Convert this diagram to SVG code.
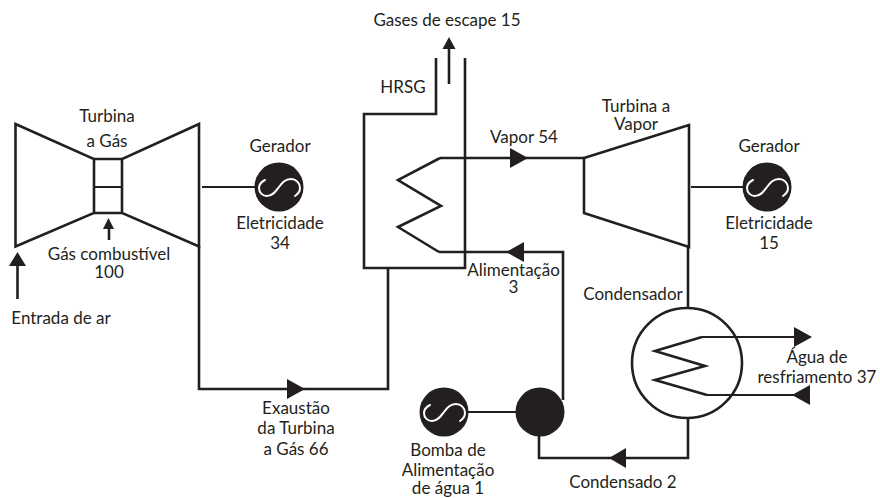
<svg xmlns="http://www.w3.org/2000/svg" width="880" height="498" viewBox="0 0 880 498">
<style>
text{font-family:"Lato","Open Sans","Liberation Sans",sans-serif;font-size:17px;fill:#231f20;text-anchor:middle}
.l{fill:none;stroke:#231f20;stroke-width:2.6;stroke-linejoin:miter}
.t{fill:none;stroke:#231f20;stroke-width:2}
.a{fill:#231f20;stroke:none}
.d{fill:#231f20}
.s{fill:none;stroke:#fff;stroke-width:2;stroke-linecap:round}
</style>
<defs>
<g id="gen"><circle class="d" r="24.5"/><path class="s" d="M-14,-7 C-18,-5 -20,-2 -20,1 C-20,6 -16,9 -12,9 C-6,9 -3,4 0,0 C3,-4 6,-8 12,-8 C17,-8 21,-4 21,1 C21,4 19,7 16,9"/></g>
</defs>
<g id="connectors">
<path class="l" d="M199,246V389H388V268"/>
<path class="t" d="M202,187H255"/>
<path class="l" d="M449,84V46"/><path class="a" d="M449,37l6.500,12h-13z"/>
<path class="l" d="M440,158H584"/><path class="a" d="M510,148l18,10l-18,10z"/>
<path class="l" d="M563,400V252H439"/><path class="a" d="M524,242l-18,10l18,10z"/>
<path class="t" d="M691,187H743"/>
<path class="l" d="M688,246V307"/>
<path class="l" d="M688,418V458H539V436"/><path class="a" d="M626,448l-17,10l17,10z"/>
<path class="a" d="M287,379l18,10l-18,10z"/>
<path class="t" d="M468,412H516"/>
<path class="l" d="M17.500,299V262"/><path class="a" d="M17.500,252l8.500,14h-17z"/>
<path class="l" d="M109,240V226"/><path class="a" d="M108.500,218l5.500,11h-11z"/>
<path class="t" d="M702,337H795"/><path class="a" d="M794,327l18,10l-18,10z"/>
<path class="t" d="M707,395H795"/><path class="a" d="M810,385l-18,10l18,10z"/>
</g>
<g id="turbina-gas">
<path class="l" d="M15.500,124L94,159V213L15.500,246.500ZM199,124L122,159V213L199,246.500Z"/>
<path class="l" d="M94,159H122M94,213H122"/><path class="t" d="M94,187H122"/>
<text x="107" y="122">Turbina</text><text x="107" y="147">a Gás</text>
<text x="109" y="260">Gás combustível</text><text x="109" y="278">100</text>
<text x="61" y="324">Entrada de ar</text>
</g>
<g id="gerador-1"><use href="#gen" x="279" y="187"/>
<text x="280" y="152">Gerador</text><text x="280" y="229">Eletricidade</text><text x="280" y="249">34</text></g>
<g id="hrsg">
<path class="l" d="M436,58V114H364V268H465V58"/>
<path class="l" d="M440,158L398,180L441,206L398,227L439,252"/>
<text x="403" y="93">HRSG</text>
<text x="447" y="26">Gases de escape 15</text>
<text x="524" y="143">Vapor 54</text>
<text x="513.500" y="276">Alimentação</text><text x="513.500" y="293">3</text>
</g>
<g id="turbina-vapor">
<path class="l" d="M584,158L689,125V247L584,213Z"/>
<text x="636" y="112">Turbina a</text><text x="636" y="130">Vapor</text>
</g>
<g id="gerador-2"><use href="#gen" x="767" y="187"/>
<text x="769" y="152">Gerador</text><text x="769" y="229">Eletricidade</text><text x="769" y="249">15</text></g>
<g id="condensador">
<circle class="l" cx="687" cy="363" r="55"/>
<path class="l" d="M702,337L655,351L705,366L655,380L707,395"/>
<text x="633" y="300">Condensador</text>
<text x="817" y="363">Água de</text><text x="817" y="383">resfriamento 37</text>
<text x="623" y="488">Condensado 2</text>
</g>
<g id="bomba"><circle class="d" cx="540" cy="412" r="24.500"/></g>
<g id="motor-bomba"><use href="#gen" x="444" y="412"/>
<text x="448" y="456">Bomba de</text><text x="448" y="476">Alimentação</text><text x="448" y="493.500">de água 1</text></g>
<g id="exaustao"><text x="296" y="414">Exaustão</text><text x="296" y="434">da Turbina</text><text x="296" y="455">a Gás 66</text></g>
</svg>
